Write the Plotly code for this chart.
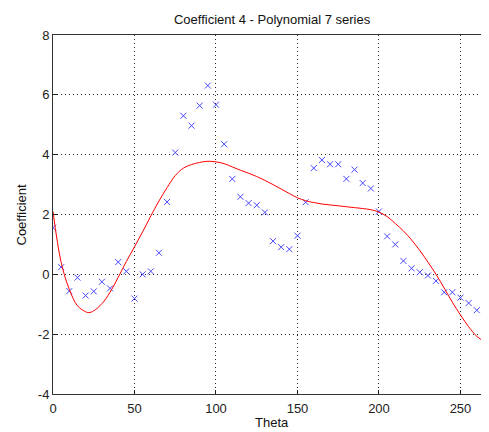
import plotly.graph_objects as go

# measured samples (theta every 5 deg)
theta = list(range(0, 270, 5))
coeff = [1.56, 0.24, -0.56, -0.11, -0.71, -0.57, -0.25, -0.47, 0.41, 0.10,
         -0.81, 0.00, 0.10, 0.72, 2.42, 4.07, 5.30, 4.97, 5.64, 6.31,
         5.67, 4.35, 3.19, 2.59, 2.38, 2.31, 2.07, 1.11, 0.91, 0.84,
         1.29, 2.41, 3.55, 3.82, 3.68, 3.68, 3.19, 3.50, 3.05, 2.87,
         2.10, 1.27, 1.00, 0.45, 0.20, 0.07, -0.04, -0.22, -0.60, -0.60,
         -0.78, -0.96, -1.20, -1.45]

# polynomial fit curve
fit_x = [0, 5, 10, 15, 20, 22, 25, 30, 35, 40, 45, 50, 55, 60, 65, 70, 75,
         80, 85, 90, 95, 100, 105, 110, 115, 120, 125, 130, 135, 140, 145,
         150, 155, 160, 165, 170, 175, 180, 185, 190, 195, 200, 205, 210,
         215, 220, 225, 230, 235, 240, 245, 250, 255, 260, 265, 268]
fit_y = [2.10, 0.40, -0.50, -1.05, -1.25, -1.28, -1.22, -0.98, -0.60, -0.10,
         0.43, 0.92, 1.42, 1.95, 2.45, 2.90, 3.30, 3.55, 3.67, 3.74, 3.78,
         3.76, 3.70, 3.59, 3.48, 3.38, 3.27, 3.14, 3.00, 2.85, 2.70, 2.56,
         2.46, 2.40, 2.35, 2.32, 2.29, 2.26, 2.23, 2.20, 2.16, 2.08, 1.93,
         1.70, 1.45, 1.15, 0.80, 0.41, 0.00, -0.46, -0.93, -1.36, -1.75,
         -2.07, -2.25, -2.28]

x_ticks = [0, 50, 100, 150, 200, 250]
y_ticks = [-4, -2, 0, 2, 4, 6, 8]
y_labels = ['-4', '-2', '0', '2', '4', '6', '8']

fig = go.Figure()
fig.add_trace(go.Scatter(
    x=theta, y=coeff, mode='markers',
    marker=dict(symbol='x-thin', size=6, line=dict(color='rgb(70,70,255)', width=1)),
    showlegend=False,
))
fig.add_trace(go.Scatter(
    x=fit_x, y=fit_y, mode='lines', line_shape='spline',
    line=dict(color='red', width=1),
    showlegend=False,
))

# the page body adds an 8px margin, so the figure is sized to fit inside it
fig.update_layout(
    width=481, height=424,
    margin=dict(l=45, r=0, t=27, b=38, autoexpand=False),
    paper_bgcolor='white', plot_bgcolor='white',
    font=dict(family='Liberation Sans, Arial, sans-serif', size=13, color='#222'),
    title=dict(text='Coefficient 4 - Polynomial 7 series', x=0.549, xanchor='center',
               y=0.974, yanchor='middle', automargin=False,
               font=dict(size=13, color='#111')),
    annotations=[
        dict(text='Theta', xref='paper', yref='paper', x=0.503, y=0,
             xanchor='center', yanchor='middle', yshift=-28, showarrow=False,
             font=dict(size=13, color='#111')),
        dict(text='Coefficient', xref='paper', yref='paper', x=0, y=0.5,
             xanchor='center', yanchor='middle', xshift=-32, textangle=-90,
             showarrow=False, font=dict(size=13, color='#111')),
    ],
)
fig.update_xaxes(
    range=[0, 267.5], tickvals=x_ticks, automargin=False,
    showgrid=True, gridcolor='#222', griddash='1px,3px', gridwidth=1,
    showline=True, linecolor='#333', linewidth=1, mirror=True,
    ticks='inside', ticklen=4, tickcolor='#222', zeroline=False,
    ticklabelstandoff=2,
)
fig.update_yaxes(
    range=[-4, 8], tickvals=y_ticks, ticktext=y_labels, automargin=False,
    showgrid=True, gridcolor='#222', griddash='1px,3px', gridwidth=1,
    showline=True, linecolor='#333', linewidth=1, mirror=False,
    ticks='inside', ticklen=4, tickcolor='#222', zeroline=False,
)

fig.write_html("out.html")
